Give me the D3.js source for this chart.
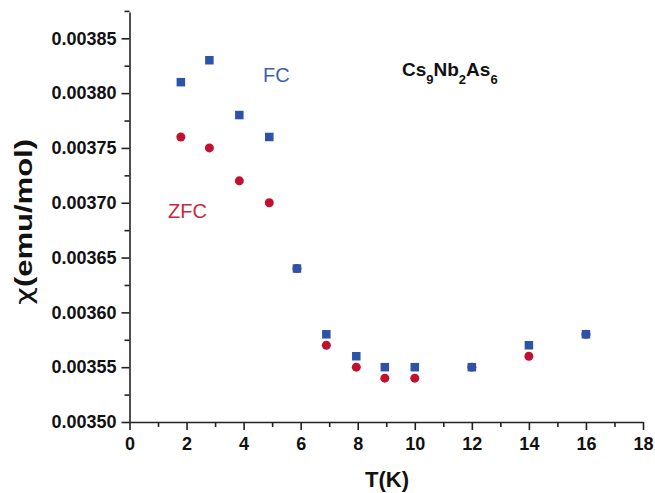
<!DOCTYPE html>
<html>
<head>
<meta charset="UTF-8">
<script src="https://d3js.org/d3.v7.min.js"></script>
<style>
  body { margin: 0; background: #fff; font-family: 'Liberation Sans', Arial, sans-serif; }
  .axis text { font-family: 'Liberation Sans', Arial, sans-serif; font-weight: bold; font-size: 18px; fill: #111; }
  .axis path, .axis line { stroke: #222; stroke-width: 1.6px; }
</style>
</head>
<body>
<div id="chart"></div>
<script>
// temperatures (K)
const fcT  = [1.8, 2.8, 3.85, 4.9, 5.87, 6.9, 7.95, 8.95, 10, 12, 14, 16];
const zfcT = [1.8, 2.8, 3.85, 4.9, 5.87, 6.9, 7.95, 8.95, 10, 12, 14, 16];
// susceptibility (emu/mol)
const fcChi  = [0.00381, 0.00383, 0.00378, 0.00376, 0.00364, 0.00358, 0.00356, 0.00355, 0.00355, 0.00355, 0.00357, 0.00358];
const zfcChi = [0.00376, 0.00375, 0.00372, 0.00370, 0.00364, 0.00357, 0.00355, 0.00354, 0.00354, 0.00355, 0.00356, 0.00358];
const xTicks = [0, 2, 4, 6, 8, 10, 12, 14, 16, 18];
const yTicks = [0.00350, 0.00355, 0.00360, 0.00365, 0.00370, 0.00375, 0.00380, 0.00385];

const W = 655, H = 493;
const mLeft = 129.5, mRight = 643, mTop = 12, mBottom = 422;

const svg = d3.select('#chart').append('svg').attr('width', W).attr('height', H);

const x = d3.scaleLinear().domain([0, 18]).range([mLeft, mRight]);
const y = d3.scaleLinear().domain([0.0035, 0.003874]).range([mBottom, mTop]);

// minor ticks
svg.append('g').attr('class', 'axis').attr('transform', `translate(0,${mBottom})`)
  .call(d3.axisBottom(x).tickValues(d3.range(1, 18, 2)).tickSize(5).tickFormat('').tickSizeOuter(0))
  .select('.domain').remove();
svg.append('g').attr('class', 'axis').attr('transform', `translate(${mLeft},0)`)
  .call(d3.axisLeft(y).tickValues(yTicks.map(v => v + 0.000025)).tickSize(5).tickFormat('').tickSizeOuter(0))
  .select('.domain').remove();

// major axes
svg.append('g').attr('class', 'axis').attr('transform', `translate(0,${mBottom})`)
  .call(d3.axisBottom(x).tickValues(xTicks).tickSize(8).tickPadding(7).tickSizeOuter(0).tickFormat(d3.format('d')));
svg.append('g').attr('class', 'axis').attr('transform', `translate(${mLeft},0)`)
  .call(d3.axisLeft(y).tickValues(yTicks).tickSize(8).tickPadding(5).tickSizeOuter(0).tickFormat(d3.format('.5f')));

// axis titles
svg.append('text').attr('x', 387).attr('y', 487).attr('text-anchor', 'middle')
  .style('font-weight', 'bold').style('font-size', '22px').attr('fill', '#111').text('T(K)');
const yt = svg.append('text').attr('transform', 'translate(32,222) rotate(-90)').attr('text-anchor', 'middle')
  .style('font-weight', 'bold').style('font-size', '23px').attr('fill', '#111')
  .attr('textLength', 166).attr('lengthAdjust', 'spacingAndGlyphs');
yt.append('tspan').style('font-family', "'DejaVu Sans', sans-serif").style('font-weight', 'normal').text('χ');
yt.append('tspan').text('(emu/mol)');

// data: ZFC circles below, FC squares on top
svg.append('g').selectAll('circle').data(zfcT).join('circle')
  .attr('cx', (d) => x(d)).attr('cy', (d, i) => y(zfcChi[i])).attr('r', 4.5).attr('fill', '#c1112f');
const s = 8.5;
svg.append('g').selectAll('rect').data(fcT).join('rect')
  .attr('x', (d) => x(d) - s / 2).attr('y', (d, i) => y(fcChi[i]) - s / 2)
  .attr('width', s).attr('height', s).attr('fill', '#2b53a7');

// labels
svg.append('text').attr('x', 263).attr('y', 82).style('font-size', '20px').attr('fill', '#3a60b2').text('FC');
svg.append('text').attr('x', 168).attr('y', 218).style('font-size', '20px').attr('fill', '#c62a3e').text('ZFC');

const f = svg.append('text').attr('x', 402).attr('y', 76).style('font-weight', 'bold').style('font-size', '19px').attr('fill', '#111');
[['Cs', 0], ['9', 1], ['Nb', 0], ['2', 1], ['As', 0], ['6', 1]].forEach(([t, sub]) => {
  const ts = f.append('tspan').text(t);
  if (sub) ts.style('font-size', '13px').attr('dy', 8);
  else ts.attr('dy', f.selectAll('tspan').size() > 1 ? -8 : 0);
});
</script>
</body>
</html>
